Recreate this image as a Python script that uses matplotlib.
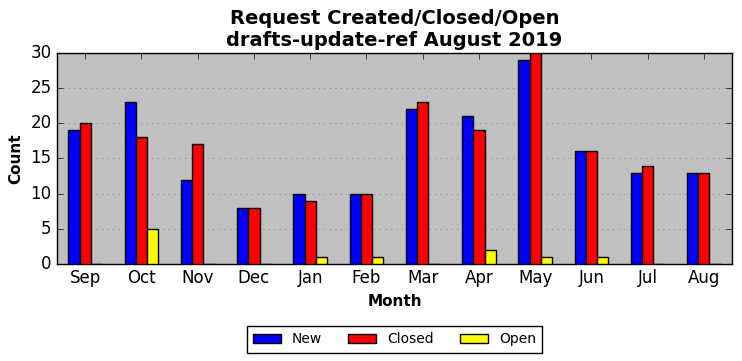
import numpy as np
import matplotlib
matplotlib.use('Agg')
import matplotlib.pyplot as plt

plt.style.use('classic')

months = ['Sep', 'Oct', 'Nov', 'Dec', 'Jan', 'Feb', 'Mar', 'Apr', 'May', 'Jun', 'Jul', 'Aug']
new = [19, 23, 12, 8, 10, 10, 22, 21, 29, 16, 13, 13]
closed = [20, 18, 17, 8, 9, 10, 23, 19, 30, 16, 14, 13]
opened = [0, 5, 0, 0, 1, 1, 0, 2, 1, 1, 0, 0]

fig = plt.figure(figsize=(7.42, 3.61), dpi=100)
ax = fig.add_axes([0.077, 0.269, 0.9095, 0.584])
ax.set_facecolor('#c0c0c0')

x = np.arange(len(months))
w = 0.2
ax.bar(x - w, new, w, color='blue', edgecolor='black', label='New', zorder=3)
ax.bar(x, closed, w, color='red', edgecolor='black', label='Closed', zorder=3)
ax.bar(x + w, opened, w, color='yellow', edgecolor='black', label='Open', zorder=3)

ax.set_xlim(-0.5, len(months) - 0.5)
ax.set_ylim(0, 30)
ax.set_xticks(x)
ax.set_xticklabels(months)
ax.yaxis.grid(True, linestyle=':', color='gray', zorder=0)
ax.set_axisbelow(True)

ax.set_title('Request Created/Closed/Open\ndrafts-update-ref August 2019', fontsize=14, fontweight='bold')
ax.set_xlabel('Month', fontsize=11, fontweight='bold')
ax.set_ylabel('Count', fontsize=11, fontweight='bold')
ax.legend(loc='upper center', bbox_to_anchor=(0.5, -0.262), ncol=3, fontsize=10,
          columnspacing=1.9, borderpad=0.45)

fig.savefig('out.png', dpi=100)
